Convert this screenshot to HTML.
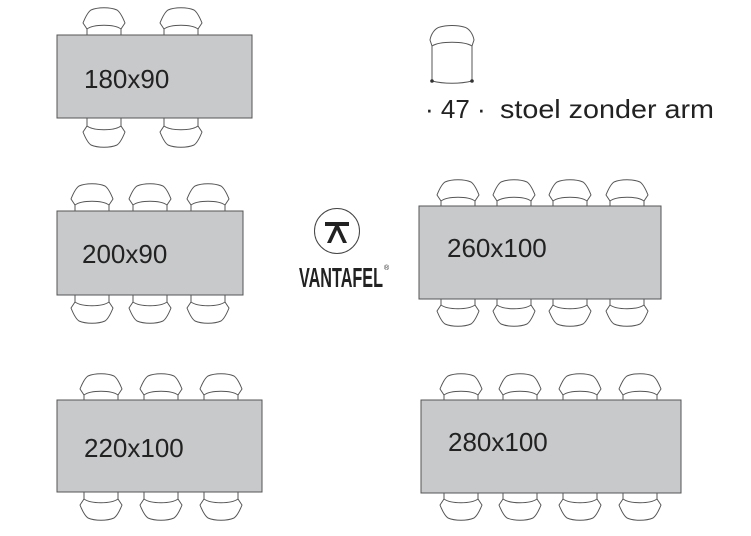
<!DOCTYPE html>
<html><head><style>
body{margin:0;background:#fff;width:751px;height:536px;overflow:hidden}
svg{position:absolute;left:0;top:0}
text{font-family:"Liberation Sans",sans-serif;fill:#222}
</style></head><body>
<svg width="751" height="536" viewBox="0 0 751 536">
<defs>
<g id="c">
<path d="M-17,30 L-17,21 L-21,15 C-19,10 -16,4 -13,2 C-6,-1 6,-1 13,2 C16,4 19,10 21,15 L17,21 L17,30" fill="#fff" stroke="#555" stroke-width="1"/>
<path d="M-17,21 C-10,16 10,16 17,21" fill="none" stroke="#555" stroke-width="1"/>
</g>
</defs>
<!-- table 1 -->
<use href="#c" x="104" y="8"/><use href="#c" x="181" y="8"/>
<use href="#c" transform="translate(104,147) scale(1,-1)"/><use href="#c" transform="translate(181,147) scale(1,-1)"/>
<rect x="57" y="35" width="195" height="83" fill="#c8c9cb" stroke="#555"/>
<text x="84" y="88" font-size="26">180x90</text>
<!-- table 2 -->
<use href="#c" x="92" y="184"/><use href="#c" x="150" y="184"/><use href="#c" x="208" y="184"/>
<use href="#c" transform="translate(92,323) scale(1,-1)"/><use href="#c" transform="translate(150,323) scale(1,-1)"/><use href="#c" transform="translate(208,323) scale(1,-1)"/>
<rect x="57" y="211" width="186" height="84" fill="#c8c9cb" stroke="#555"/>
<text x="82" y="263" font-size="26">200x90</text>
<!-- table 3 -->
<use href="#c" x="101" y="374"/><use href="#c" x="161" y="374"/><use href="#c" x="221" y="374"/>
<use href="#c" transform="translate(101,520) scale(1,-1)"/><use href="#c" transform="translate(161,520) scale(1,-1)"/><use href="#c" transform="translate(221,520) scale(1,-1)"/>
<rect x="57" y="400" width="205" height="92" fill="#c8c9cb" stroke="#555"/>
<text x="84" y="457" font-size="26">220x100</text>
<!-- table 4 -->
<use href="#c" x="458" y="180"/><use href="#c" x="514" y="180"/><use href="#c" x="570" y="180"/><use href="#c" x="627" y="180"/>
<use href="#c" transform="translate(458,326) scale(1,-1)"/><use href="#c" transform="translate(514,326) scale(1,-1)"/><use href="#c" transform="translate(570,326) scale(1,-1)"/><use href="#c" transform="translate(627,326) scale(1,-1)"/>
<rect x="419" y="206" width="242" height="93" fill="#c8c9cb" stroke="#555"/>
<text x="447" y="257" font-size="26">260x100</text>
<!-- table 5 -->
<use href="#c" x="461" y="374"/><use href="#c" x="520" y="374"/><use href="#c" x="580" y="374"/><use href="#c" x="640" y="374"/>
<use href="#c" transform="translate(461,520) scale(1,-1)"/><use href="#c" transform="translate(520,520) scale(1,-1)"/><use href="#c" transform="translate(580,520) scale(1,-1)"/><use href="#c" transform="translate(640,520) scale(1,-1)"/>
<rect x="421" y="400" width="260" height="93" fill="#c8c9cb" stroke="#555"/>
<text x="448" y="451" font-size="26">280x100</text>
<!-- single chair -->
<path d="M432,81 L432,46 L430,40 C431,34 435,28 440,27 C447,25 457,25 464,27 C469,28 473,34 474,40 L472,46 L472,81 C460,84 444,84 432,81 Z" fill="#fff" stroke="#555"/>
<path d="M432,46 C440,41 464,41 472,46" fill="none" stroke="#555"/>
<circle cx="432" cy="81" r="1.8" fill="#333"/><circle cx="472" cy="81" r="1.8" fill="#333"/>
<text x="425" y="118" font-size="26">· 47 ·</text>
<text x="500" y="118" font-size="26" textLength="214" lengthAdjust="spacingAndGlyphs">stoel zonder arm</text>
<!-- logo -->
<circle cx="337" cy="231" r="22.5" fill="#fff" stroke="#444" stroke-width="1"/>
<rect x="325" y="222" width="24" height="4" fill="#222"/>
<path d="M335,226 L327,243 L331,243 L337,230 L343,243 L347,243 L339,226 Z" fill="#222"/>
<text x="299" y="287" font-size="28" font-weight="bold" textLength="84" lengthAdjust="spacingAndGlyphs" style="font-family:'Liberation Sans Narrow','Liberation Sans',sans-serif">VANTAFEL</text>
<text x="384" y="270" font-size="7">®</text>
</svg>
</body></html>
